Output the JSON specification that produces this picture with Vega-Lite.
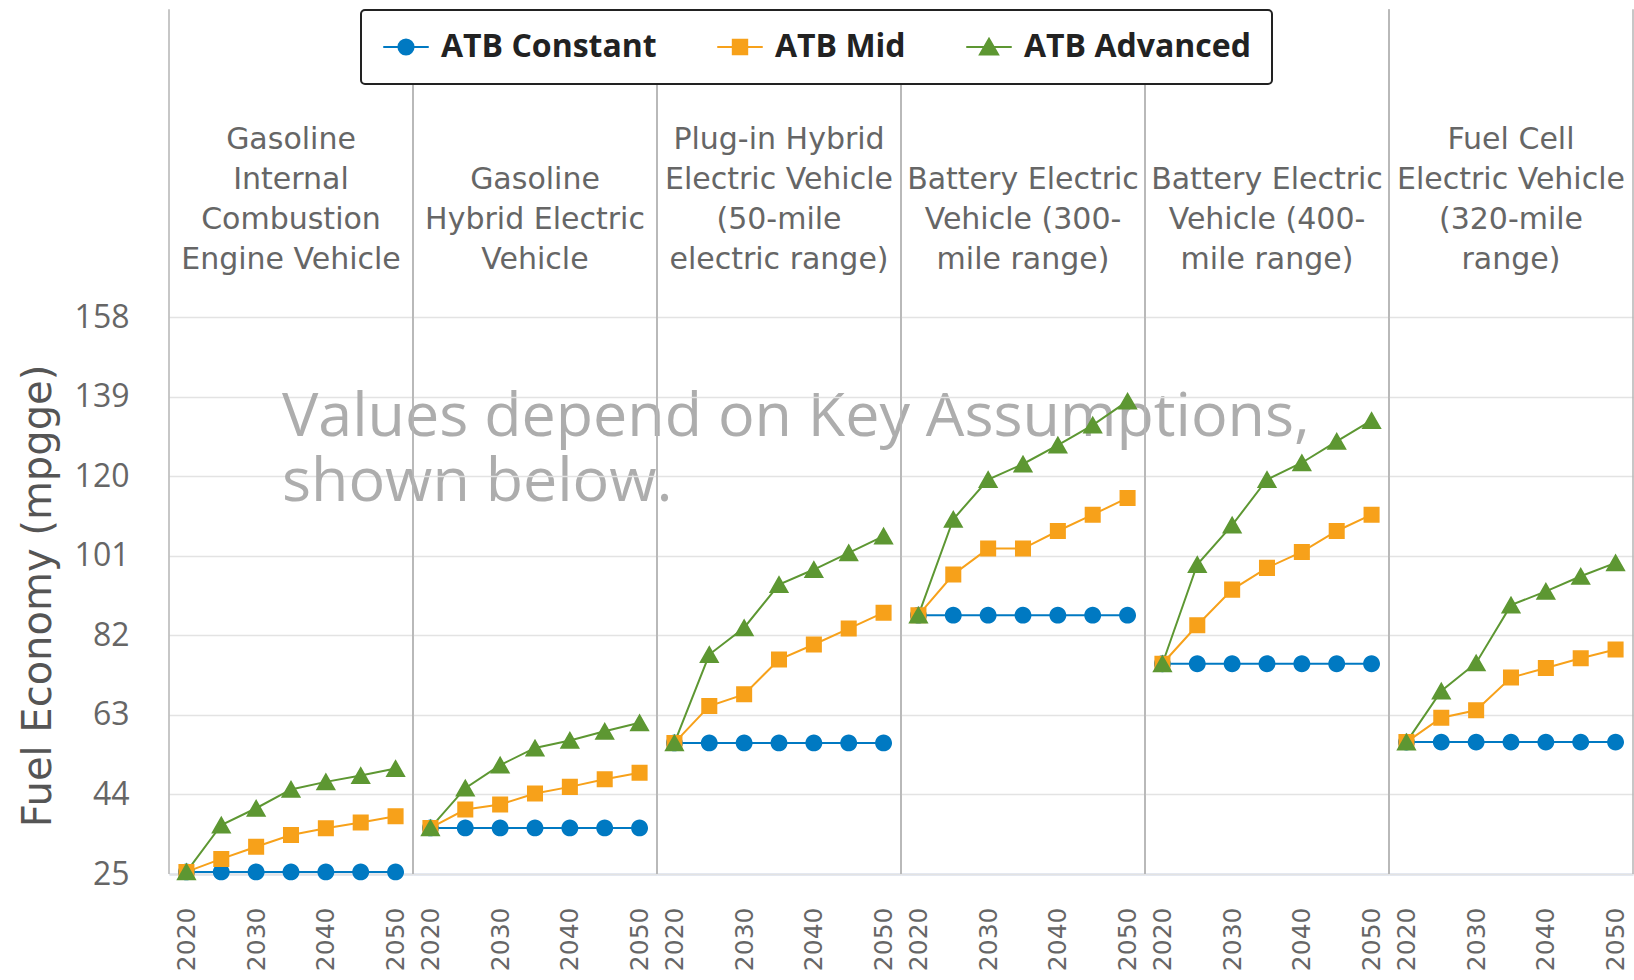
{
  "$schema": "https://vega.github.io/schema/vega-lite/v6.json",
  "background": "white",
  "padding": {"left": 18, "top": 8, "right": 0, "bottom": 0},
  "bounds": "flush",
  "spacing": 0,
  "data": {"values": [
    {"vehicle": "Gasoline\nInternal\nCombustion\nEngine Vehicle", "scenario": "ATB Constant", "year": 2020, "mpgge": 25.5},
    {"vehicle": "Gasoline\nInternal\nCombustion\nEngine Vehicle", "scenario": "ATB Constant", "year": 2025, "mpgge": 25.5},
    {"vehicle": "Gasoline\nInternal\nCombustion\nEngine Vehicle", "scenario": "ATB Constant", "year": 2030, "mpgge": 25.5},
    {"vehicle": "Gasoline\nInternal\nCombustion\nEngine Vehicle", "scenario": "ATB Constant", "year": 2035, "mpgge": 25.5},
    {"vehicle": "Gasoline\nInternal\nCombustion\nEngine Vehicle", "scenario": "ATB Constant", "year": 2040, "mpgge": 25.5},
    {"vehicle": "Gasoline\nInternal\nCombustion\nEngine Vehicle", "scenario": "ATB Constant", "year": 2045, "mpgge": 25.5},
    {"vehicle": "Gasoline\nInternal\nCombustion\nEngine Vehicle", "scenario": "ATB Constant", "year": 2050, "mpgge": 25.5},
    {"vehicle": "Gasoline\nHybrid Electric\nVehicle", "scenario": "ATB Constant", "year": 2020, "mpgge": 36.0},
    {"vehicle": "Gasoline\nHybrid Electric\nVehicle", "scenario": "ATB Constant", "year": 2025, "mpgge": 36.0},
    {"vehicle": "Gasoline\nHybrid Electric\nVehicle", "scenario": "ATB Constant", "year": 2030, "mpgge": 36.0},
    {"vehicle": "Gasoline\nHybrid Electric\nVehicle", "scenario": "ATB Constant", "year": 2035, "mpgge": 36.0},
    {"vehicle": "Gasoline\nHybrid Electric\nVehicle", "scenario": "ATB Constant", "year": 2040, "mpgge": 36.0},
    {"vehicle": "Gasoline\nHybrid Electric\nVehicle", "scenario": "ATB Constant", "year": 2045, "mpgge": 36.0},
    {"vehicle": "Gasoline\nHybrid Electric\nVehicle", "scenario": "ATB Constant", "year": 2050, "mpgge": 36.0},
    {"vehicle": "Plug-in Hybrid\nElectric Vehicle\n(50-mile\nelectric range)", "scenario": "ATB Constant", "year": 2020, "mpgge": 56.3},
    {"vehicle": "Plug-in Hybrid\nElectric Vehicle\n(50-mile\nelectric range)", "scenario": "ATB Constant", "year": 2025, "mpgge": 56.3},
    {"vehicle": "Plug-in Hybrid\nElectric Vehicle\n(50-mile\nelectric range)", "scenario": "ATB Constant", "year": 2030, "mpgge": 56.3},
    {"vehicle": "Plug-in Hybrid\nElectric Vehicle\n(50-mile\nelectric range)", "scenario": "ATB Constant", "year": 2035, "mpgge": 56.3},
    {"vehicle": "Plug-in Hybrid\nElectric Vehicle\n(50-mile\nelectric range)", "scenario": "ATB Constant", "year": 2040, "mpgge": 56.3},
    {"vehicle": "Plug-in Hybrid\nElectric Vehicle\n(50-mile\nelectric range)", "scenario": "ATB Constant", "year": 2045, "mpgge": 56.3},
    {"vehicle": "Plug-in Hybrid\nElectric Vehicle\n(50-mile\nelectric range)", "scenario": "ATB Constant", "year": 2050, "mpgge": 56.3},
    {"vehicle": "Battery Electric\nVehicle (300-\nmile range)", "scenario": "ATB Constant", "year": 2020, "mpgge": 86.8},
    {"vehicle": "Battery Electric\nVehicle (300-\nmile range)", "scenario": "ATB Constant", "year": 2025, "mpgge": 86.8},
    {"vehicle": "Battery Electric\nVehicle (300-\nmile range)", "scenario": "ATB Constant", "year": 2030, "mpgge": 86.8},
    {"vehicle": "Battery Electric\nVehicle (300-\nmile range)", "scenario": "ATB Constant", "year": 2035, "mpgge": 86.8},
    {"vehicle": "Battery Electric\nVehicle (300-\nmile range)", "scenario": "ATB Constant", "year": 2040, "mpgge": 86.8},
    {"vehicle": "Battery Electric\nVehicle (300-\nmile range)", "scenario": "ATB Constant", "year": 2045, "mpgge": 86.8},
    {"vehicle": "Battery Electric\nVehicle (300-\nmile range)", "scenario": "ATB Constant", "year": 2050, "mpgge": 86.8},
    {"vehicle": "Battery Electric\nVehicle (400-\nmile range)", "scenario": "ATB Constant", "year": 2020, "mpgge": 75.2},
    {"vehicle": "Battery Electric\nVehicle (400-\nmile range)", "scenario": "ATB Constant", "year": 2025, "mpgge": 75.2},
    {"vehicle": "Battery Electric\nVehicle (400-\nmile range)", "scenario": "ATB Constant", "year": 2030, "mpgge": 75.2},
    {"vehicle": "Battery Electric\nVehicle (400-\nmile range)", "scenario": "ATB Constant", "year": 2035, "mpgge": 75.2},
    {"vehicle": "Battery Electric\nVehicle (400-\nmile range)", "scenario": "ATB Constant", "year": 2040, "mpgge": 75.2},
    {"vehicle": "Battery Electric\nVehicle (400-\nmile range)", "scenario": "ATB Constant", "year": 2045, "mpgge": 75.2},
    {"vehicle": "Battery Electric\nVehicle (400-\nmile range)", "scenario": "ATB Constant", "year": 2050, "mpgge": 75.2},
    {"vehicle": "Fuel Cell\nElectric Vehicle\n(320-mile\nrange)", "scenario": "ATB Constant", "year": 2020, "mpgge": 56.5},
    {"vehicle": "Fuel Cell\nElectric Vehicle\n(320-mile\nrange)", "scenario": "ATB Constant", "year": 2025, "mpgge": 56.5},
    {"vehicle": "Fuel Cell\nElectric Vehicle\n(320-mile\nrange)", "scenario": "ATB Constant", "year": 2030, "mpgge": 56.5},
    {"vehicle": "Fuel Cell\nElectric Vehicle\n(320-mile\nrange)", "scenario": "ATB Constant", "year": 2035, "mpgge": 56.5},
    {"vehicle": "Fuel Cell\nElectric Vehicle\n(320-mile\nrange)", "scenario": "ATB Constant", "year": 2040, "mpgge": 56.5},
    {"vehicle": "Fuel Cell\nElectric Vehicle\n(320-mile\nrange)", "scenario": "ATB Constant", "year": 2045, "mpgge": 56.5},
    {"vehicle": "Fuel Cell\nElectric Vehicle\n(320-mile\nrange)", "scenario": "ATB Constant", "year": 2050, "mpgge": 56.5},

    {"vehicle": "Gasoline\nInternal\nCombustion\nEngine Vehicle", "scenario": "ATB Mid", "year": 2020, "mpgge": 25.5},
    {"vehicle": "Gasoline\nInternal\nCombustion\nEngine Vehicle", "scenario": "ATB Mid", "year": 2025, "mpgge": 28.6},
    {"vehicle": "Gasoline\nInternal\nCombustion\nEngine Vehicle", "scenario": "ATB Mid", "year": 2030, "mpgge": 31.5},
    {"vehicle": "Gasoline\nInternal\nCombustion\nEngine Vehicle", "scenario": "ATB Mid", "year": 2035, "mpgge": 34.3},
    {"vehicle": "Gasoline\nInternal\nCombustion\nEngine Vehicle", "scenario": "ATB Mid", "year": 2040, "mpgge": 35.9},
    {"vehicle": "Gasoline\nInternal\nCombustion\nEngine Vehicle", "scenario": "ATB Mid", "year": 2045, "mpgge": 37.3},
    {"vehicle": "Gasoline\nInternal\nCombustion\nEngine Vehicle", "scenario": "ATB Mid", "year": 2050, "mpgge": 38.8},
    {"vehicle": "Gasoline\nHybrid Electric\nVehicle", "scenario": "ATB Mid", "year": 2020, "mpgge": 36.0},
    {"vehicle": "Gasoline\nHybrid Electric\nVehicle", "scenario": "ATB Mid", "year": 2025, "mpgge": 40.4},
    {"vehicle": "Gasoline\nHybrid Electric\nVehicle", "scenario": "ATB Mid", "year": 2030, "mpgge": 41.6},
    {"vehicle": "Gasoline\nHybrid Electric\nVehicle", "scenario": "ATB Mid", "year": 2035, "mpgge": 44.2},
    {"vehicle": "Gasoline\nHybrid Electric\nVehicle", "scenario": "ATB Mid", "year": 2040, "mpgge": 45.8},
    {"vehicle": "Gasoline\nHybrid Electric\nVehicle", "scenario": "ATB Mid", "year": 2045, "mpgge": 47.6},
    {"vehicle": "Gasoline\nHybrid Electric\nVehicle", "scenario": "ATB Mid", "year": 2050, "mpgge": 49.2},
    {"vehicle": "Plug-in Hybrid\nElectric Vehicle\n(50-mile\nelectric range)", "scenario": "ATB Mid", "year": 2020, "mpgge": 56.3},
    {"vehicle": "Plug-in Hybrid\nElectric Vehicle\n(50-mile\nelectric range)", "scenario": "ATB Mid", "year": 2025, "mpgge": 65.1},
    {"vehicle": "Plug-in Hybrid\nElectric Vehicle\n(50-mile\nelectric range)", "scenario": "ATB Mid", "year": 2030, "mpgge": 67.9},
    {"vehicle": "Plug-in Hybrid\nElectric Vehicle\n(50-mile\nelectric range)", "scenario": "ATB Mid", "year": 2035, "mpgge": 76.2},
    {"vehicle": "Plug-in Hybrid\nElectric Vehicle\n(50-mile\nelectric range)", "scenario": "ATB Mid", "year": 2040, "mpgge": 79.8},
    {"vehicle": "Plug-in Hybrid\nElectric Vehicle\n(50-mile\nelectric range)", "scenario": "ATB Mid", "year": 2045, "mpgge": 83.6},
    {"vehicle": "Plug-in Hybrid\nElectric Vehicle\n(50-mile\nelectric range)", "scenario": "ATB Mid", "year": 2050, "mpgge": 87.4},
    {"vehicle": "Battery Electric\nVehicle (300-\nmile range)", "scenario": "ATB Mid", "year": 2020, "mpgge": 86.8},
    {"vehicle": "Battery Electric\nVehicle (300-\nmile range)", "scenario": "ATB Mid", "year": 2025, "mpgge": 96.5},
    {"vehicle": "Battery Electric\nVehicle (300-\nmile range)", "scenario": "ATB Mid", "year": 2030, "mpgge": 102.7},
    {"vehicle": "Battery Electric\nVehicle (300-\nmile range)", "scenario": "ATB Mid", "year": 2035, "mpgge": 102.7},
    {"vehicle": "Battery Electric\nVehicle (300-\nmile range)", "scenario": "ATB Mid", "year": 2040, "mpgge": 106.9},
    {"vehicle": "Battery Electric\nVehicle (300-\nmile range)", "scenario": "ATB Mid", "year": 2045, "mpgge": 110.8},
    {"vehicle": "Battery Electric\nVehicle (300-\nmile range)", "scenario": "ATB Mid", "year": 2050, "mpgge": 114.8},
    {"vehicle": "Battery Electric\nVehicle (400-\nmile range)", "scenario": "ATB Mid", "year": 2020, "mpgge": 75.2},
    {"vehicle": "Battery Electric\nVehicle (400-\nmile range)", "scenario": "ATB Mid", "year": 2025, "mpgge": 84.4},
    {"vehicle": "Battery Electric\nVehicle (400-\nmile range)", "scenario": "ATB Mid", "year": 2030, "mpgge": 92.9},
    {"vehicle": "Battery Electric\nVehicle (400-\nmile range)", "scenario": "ATB Mid", "year": 2035, "mpgge": 98.1},
    {"vehicle": "Battery Electric\nVehicle (400-\nmile range)", "scenario": "ATB Mid", "year": 2040, "mpgge": 101.9},
    {"vehicle": "Battery Electric\nVehicle (400-\nmile range)", "scenario": "ATB Mid", "year": 2045, "mpgge": 106.9},
    {"vehicle": "Battery Electric\nVehicle (400-\nmile range)", "scenario": "ATB Mid", "year": 2050, "mpgge": 110.8},
    {"vehicle": "Fuel Cell\nElectric Vehicle\n(320-mile\nrange)", "scenario": "ATB Mid", "year": 2020, "mpgge": 56.5},
    {"vehicle": "Fuel Cell\nElectric Vehicle\n(320-mile\nrange)", "scenario": "ATB Mid", "year": 2025, "mpgge": 62.3},
    {"vehicle": "Fuel Cell\nElectric Vehicle\n(320-mile\nrange)", "scenario": "ATB Mid", "year": 2030, "mpgge": 64.1},
    {"vehicle": "Fuel Cell\nElectric Vehicle\n(320-mile\nrange)", "scenario": "ATB Mid", "year": 2035, "mpgge": 71.9},
    {"vehicle": "Fuel Cell\nElectric Vehicle\n(320-mile\nrange)", "scenario": "ATB Mid", "year": 2040, "mpgge": 74.2},
    {"vehicle": "Fuel Cell\nElectric Vehicle\n(320-mile\nrange)", "scenario": "ATB Mid", "year": 2045, "mpgge": 76.5},
    {"vehicle": "Fuel Cell\nElectric Vehicle\n(320-mile\nrange)", "scenario": "ATB Mid", "year": 2050, "mpgge": 78.6},

    {"vehicle": "Gasoline\nInternal\nCombustion\nEngine Vehicle", "scenario": "ATB Advanced", "year": 2020, "mpgge": 25.5},
    {"vehicle": "Gasoline\nInternal\nCombustion\nEngine Vehicle", "scenario": "ATB Advanced", "year": 2025, "mpgge": 36.7},
    {"vehicle": "Gasoline\nInternal\nCombustion\nEngine Vehicle", "scenario": "ATB Advanced", "year": 2030, "mpgge": 40.7},
    {"vehicle": "Gasoline\nInternal\nCombustion\nEngine Vehicle", "scenario": "ATB Advanced", "year": 2035, "mpgge": 45.2},
    {"vehicle": "Gasoline\nInternal\nCombustion\nEngine Vehicle", "scenario": "ATB Advanced", "year": 2040, "mpgge": 47.0},
    {"vehicle": "Gasoline\nInternal\nCombustion\nEngine Vehicle", "scenario": "ATB Advanced", "year": 2045, "mpgge": 48.5},
    {"vehicle": "Gasoline\nInternal\nCombustion\nEngine Vehicle", "scenario": "ATB Advanced", "year": 2050, "mpgge": 50.2},
    {"vehicle": "Gasoline\nHybrid Electric\nVehicle", "scenario": "ATB Advanced", "year": 2020, "mpgge": 36.0},
    {"vehicle": "Gasoline\nHybrid Electric\nVehicle", "scenario": "ATB Advanced", "year": 2025, "mpgge": 45.5},
    {"vehicle": "Gasoline\nHybrid Electric\nVehicle", "scenario": "ATB Advanced", "year": 2030, "mpgge": 51.0},
    {"vehicle": "Gasoline\nHybrid Electric\nVehicle", "scenario": "ATB Advanced", "year": 2035, "mpgge": 55.1},
    {"vehicle": "Gasoline\nHybrid Electric\nVehicle", "scenario": "ATB Advanced", "year": 2040, "mpgge": 56.9},
    {"vehicle": "Gasoline\nHybrid Electric\nVehicle", "scenario": "ATB Advanced", "year": 2045, "mpgge": 59.1},
    {"vehicle": "Gasoline\nHybrid Electric\nVehicle", "scenario": "ATB Advanced", "year": 2050, "mpgge": 61.1},
    {"vehicle": "Plug-in Hybrid\nElectric Vehicle\n(50-mile\nelectric range)", "scenario": "ATB Advanced", "year": 2020, "mpgge": 56.3},
    {"vehicle": "Plug-in Hybrid\nElectric Vehicle\n(50-mile\nelectric range)", "scenario": "ATB Advanced", "year": 2025, "mpgge": 77.4},
    {"vehicle": "Plug-in Hybrid\nElectric Vehicle\n(50-mile\nelectric range)", "scenario": "ATB Advanced", "year": 2030, "mpgge": 83.8},
    {"vehicle": "Plug-in Hybrid\nElectric Vehicle\n(50-mile\nelectric range)", "scenario": "ATB Advanced", "year": 2035, "mpgge": 94.1},
    {"vehicle": "Plug-in Hybrid\nElectric Vehicle\n(50-mile\nelectric range)", "scenario": "ATB Advanced", "year": 2040, "mpgge": 97.7},
    {"vehicle": "Plug-in Hybrid\nElectric Vehicle\n(50-mile\nelectric range)", "scenario": "ATB Advanced", "year": 2045, "mpgge": 101.7},
    {"vehicle": "Plug-in Hybrid\nElectric Vehicle\n(50-mile\nelectric range)", "scenario": "ATB Advanced", "year": 2050, "mpgge": 105.7},
    {"vehicle": "Battery Electric\nVehicle (300-\nmile range)", "scenario": "ATB Advanced", "year": 2020, "mpgge": 86.8},
    {"vehicle": "Battery Electric\nVehicle (300-\nmile range)", "scenario": "ATB Advanced", "year": 2025, "mpgge": 109.7},
    {"vehicle": "Battery Electric\nVehicle (300-\nmile range)", "scenario": "ATB Advanced", "year": 2030, "mpgge": 119.2},
    {"vehicle": "Battery Electric\nVehicle (300-\nmile range)", "scenario": "ATB Advanced", "year": 2035, "mpgge": 122.9},
    {"vehicle": "Battery Electric\nVehicle (300-\nmile range)", "scenario": "ATB Advanced", "year": 2040, "mpgge": 127.4},
    {"vehicle": "Battery Electric\nVehicle (300-\nmile range)", "scenario": "ATB Advanced", "year": 2045, "mpgge": 132.2},
    {"vehicle": "Battery Electric\nVehicle (300-\nmile range)", "scenario": "ATB Advanced", "year": 2050, "mpgge": 137.9},
    {"vehicle": "Battery Electric\nVehicle (400-\nmile range)", "scenario": "ATB Advanced", "year": 2020, "mpgge": 75.2},
    {"vehicle": "Battery Electric\nVehicle (400-\nmile range)", "scenario": "ATB Advanced", "year": 2025, "mpgge": 98.9},
    {"vehicle": "Battery Electric\nVehicle (400-\nmile range)", "scenario": "ATB Advanced", "year": 2030, "mpgge": 108.3},
    {"vehicle": "Battery Electric\nVehicle (400-\nmile range)", "scenario": "ATB Advanced", "year": 2035, "mpgge": 119.2},
    {"vehicle": "Battery Electric\nVehicle (400-\nmile range)", "scenario": "ATB Advanced", "year": 2040, "mpgge": 123.2},
    {"vehicle": "Battery Electric\nVehicle (400-\nmile range)", "scenario": "ATB Advanced", "year": 2045, "mpgge": 128.3},
    {"vehicle": "Battery Electric\nVehicle (400-\nmile range)", "scenario": "ATB Advanced", "year": 2050, "mpgge": 133.3},
    {"vehicle": "Fuel Cell\nElectric Vehicle\n(320-mile\nrange)", "scenario": "ATB Advanced", "year": 2020, "mpgge": 56.5},
    {"vehicle": "Fuel Cell\nElectric Vehicle\n(320-mile\nrange)", "scenario": "ATB Advanced", "year": 2025, "mpgge": 68.7},
    {"vehicle": "Fuel Cell\nElectric Vehicle\n(320-mile\nrange)", "scenario": "ATB Advanced", "year": 2030, "mpgge": 75.4},
    {"vehicle": "Fuel Cell\nElectric Vehicle\n(320-mile\nrange)", "scenario": "ATB Advanced", "year": 2035, "mpgge": 89.2},
    {"vehicle": "Fuel Cell\nElectric Vehicle\n(320-mile\nrange)", "scenario": "ATB Advanced", "year": 2040, "mpgge": 92.5},
    {"vehicle": "Fuel Cell\nElectric Vehicle\n(320-mile\nrange)", "scenario": "ATB Advanced", "year": 2045, "mpgge": 96.1},
    {"vehicle": "Fuel Cell\nElectric Vehicle\n(320-mile\nrange)", "scenario": "ATB Advanced", "year": 2050, "mpgge": 99.3}
  ]},
  "facet": {
    "column": {
      "field": "vehicle",
      "type": "nominal",
      "title": null,
      "sort": [
        "Gasoline\nInternal\nCombustion\nEngine Vehicle",
        "Gasoline\nHybrid Electric\nVehicle",
        "Plug-in Hybrid\nElectric Vehicle\n(50-mile\nelectric range)",
        "Battery Electric\nVehicle (300-\nmile range)",
        "Battery Electric\nVehicle (400-\nmile range)",
        "Fuel Cell\nElectric Vehicle\n(320-mile\nrange)"
      ],
      "header": {
        "labelExpr": "split(datum.value, '\\n')",
        "labelFont": "DejaVu Sans",
        "labelFontSize": 30,
        "labelColor": "#666666",
        "labelLineHeight": 40,
        "labelBaseline": "bottom",
        "labelPadding": 12,
        "labelLimit": 0,
        "labelOrient": "top"
      }
    }
  },
  "spec": {
    "width": 244,
    "height": 557,
    "encoding": {
      "x": {
        "field": "year",
        "type": "quantitative",
        "scale": {"domain": [2017.5, 2052.5], "nice": false, "zero": false},
        "axis": {
          "values": [2020, 2030, 2040, 2050],
          "format": "d",
          "title": null,
          "labelAngle": 270,
          "labelFont": "DejaVu Sans",
          "labelFontSize": 25,
          "labelColor": "#666666",
          "labelPadding": 33,
          "labelFlush": false,
          "labelOverlap": false,
          "ticks": false,
          "grid": false,
          "domainColor": "#ccd6eb",
          "domainWidth": 2
        }
      },
      "y": {
        "field": "mpgge",
        "type": "quantitative",
        "scale": {"domain": [25, 158], "nice": false, "zero": false},
        "axis": {
          "values": [25, 44, 63, 82, 101, 120, 139, 158],
          "title": "Fuel Economy (mpgge)",
          "titleFont": "DejaVu Sans",
          "titleFontSize": 40,
          "titleFontWeight": "normal",
          "titleColor": "#555555",
          "titlePadding": 16,
          "labelFont": "Open Sans",
          "labelFontSize": 32,
          "labelColor": "#666666",
          "labelPadding": 40,
          "labelFlush": false,
          "labelOverlap": false,
          "ticks": false,
          "domain": false,
          "grid": true,
          "gridColor": "#e3e3e3",
          "gridWidth": 1.5
        }
      }
    },
    "layer": [
      {
        "transform": [{"filter": "datum.year == 2020 && datum.scenario == 'ATB Constant'"}],
        "mark": {"type": "rule", "color": "#b4b4b4", "strokeWidth": 1.5},
        "encoding": {
          "x": {"datum": 2017.5},
          "y": {"datum": 25},
          "y2": {"datum": 231.5}
        }
      },
      {
        "transform": [{"filter": "datum.year == 2020 && datum.scenario == 'ATB Constant'"}],
        "mark": {"type": "rule", "color": "#b4b4b4", "strokeWidth": 1.5},
        "encoding": {
          "x": {"datum": 2052.5},
          "y": {"datum": 25},
          "y2": {"datum": 231.5}
        }
      },
      {
        "transform": [{"filter": "datum.year == 2020 && datum.scenario == 'ATB Constant' && indexof(datum.vehicle, 'Internal') >= 0"}],
        "mark": {
          "type": "text",
          "text": ["Values depend on Key Assumptions,", "shown below."],
          "font": "Open Sans",
          "fontSize": 61,
          "lineHeight": 65,
          "color": "#adadad",
          "align": "left",
          "baseline": "alphabetic"
        },
        "encoding": {
          "x": {"datum": 2033.7},
          "y": {"datum": 129.5}
        }
      },
      {
        "mark": {"type": "line", "strokeWidth": 2},
        "encoding": {
          "color": {
            "field": "scenario",
            "type": "nominal",
            "scale": {"domain": ["ATB Constant", "ATB Mid", "ATB Advanced"], "range": ["#0079C2", "#F7A11A", "#5D9732"]}
          }
        }
      },
      {
        "mark": {"type": "point", "filled": true, "opacity": 1, "size": 285, "strokeWidth": 0},
        "encoding": {
          "color": {
            "field": "scenario",
            "type": "nominal",
            "scale": {"domain": ["ATB Constant", "ATB Mid", "ATB Advanced"], "range": ["#0079C2", "#F7A11A", "#5D9732"]}
          },
          "shape": {
            "field": "scenario",
            "type": "nominal",
            "scale": {
              "domain": ["ATB Constant", "ATB Mid", "ATB Advanced"],
              "range": [
                "M-3,0H3M1,0A1,1,0,1,1,-1,0A1,1,0,1,1,1,0Z",
                "M-3,0H3M-0.95,-0.95H0.95V0.95H-0.95Z",
                "M-3,0H3M0,-1.1L1.2,1L-1.2,1Z"
              ]
            }
          }
        }
      }
    ]
  },
  "config": {
    "view": {"stroke": null},
    "legend": {
      "title": null,
      "orient": "none",
      "legendX": 192,
      "legendY": -307,
      "direction": "horizontal",
      "labelFont": "Open Sans",
      "labelFontSize": 32,
      "labelFontWeight": "bold",
      "labelColor": "#222222",
      "labelLimit": 400,
      "symbolSize": 230,
      "symbolStrokeWidth": 2,
      "symbolOffset": 8,
      "padding": 21,
      "strokeColor": "#222222",
      "strokeWidth": 2,
      "fillColor": "white",
      "cornerRadius": 4,
      "columnPadding": 56,
      "labelOffset": 19
    }
  }
}
